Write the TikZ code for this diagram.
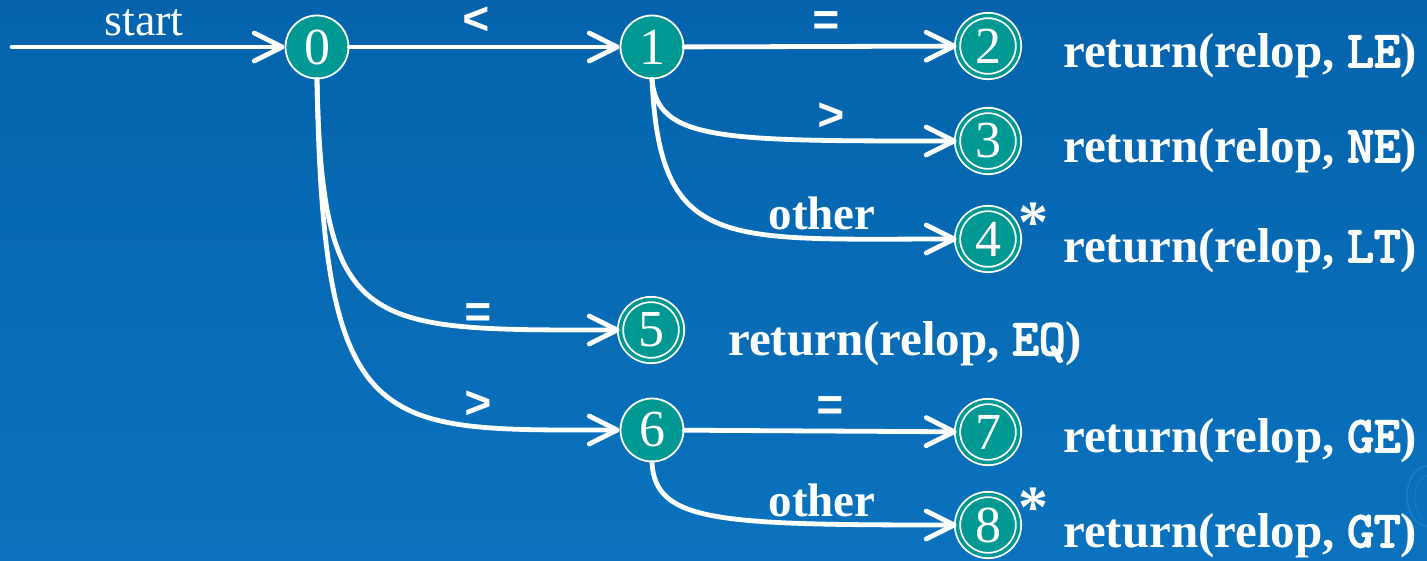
\documentclass[tikz,border=0pt]{standalone}
\usepackage{fontspec}
\setmainfont{Liberation Serif}
\setmonofont{lmmono10-regular.otf}[AutoFakeBold=3.4]
\newfontfamily\symfont{Liberation Mono}
\usetikzlibrary{arrows.meta}

\definecolor{bgtop}{RGB}{4,99,172}
\definecolor{bgbot}{RGB}{10,114,190}
\definecolor{statefill}{RGB}{0,152,146}
\definecolor{swirlblue}{RGB}{40,140,220}

% token in the return actions, set in bold typewriter
\newcommand\tok[1]{{\ttfamily\bfseries\fontsize{51}{51}\selectfont #1}}

\begin{document}
\begin{tikzpicture}[x=1pt,y=-1pt,
  state/.style={circle, draw=white, line width=1.8pt, fill=statefill,
    minimum size=63pt, inner sep=0pt, text=white,
    font=\fontsize{52}{52}\selectfont},
  accept/.style={state, minimum size=61pt, double=statefill,
    double distance=3.5pt},
  edge/.style={draw=white, line width=4.8pt, line cap=round,
    -{Straight Barb[length=28pt,width=28pt,round]}},
  sym/.style={text=white, inner sep=0pt, anchor=base,
    font=\symfont\bfseries\fontsize{46}{46}\selectfont},
  word/.style={text=white, inner sep=0pt, anchor=base,
    font=\fontsize{46}{46}\selectfont},
  label/.style={word, font=\bfseries\fontsize{47}{47}\selectfont},
  ret/.style={text=white, inner sep=0pt, anchor=base west,
    font=\bfseries\fontsize{49}{49}\selectfont},
  star/.style={text=white, inner sep=0pt,
    font=\bfseries\fontsize{60}{60}\selectfont}]

% background
\shade[top color=bgtop, bottom color=bgbot] (0,0) rectangle (1427,560);
\useasboundingbox (0,0) rectangle (1427,560);
\draw[swirlblue, line width=1.5pt, opacity=0.55]
  (1427,466) arc[start angle=90, end angle=270, x radius=20pt, y radius=30pt];
\draw[swirlblue, line width=1.2pt, opacity=0.4]
  (1427,476) arc[start angle=90, end angle=250, x radius=12pt, y radius=22pt];

% states
\node[state]  (n0) at (317,47)  {0};
\node[state]  (n1) at (652,47)  {1};
\node[accept] (n2) at (988,46)  {2};
\node[accept] (n3) at (988,141) {3};
\node[accept] (n4) at (988,239) {4};
\node[accept] (n5) at (651,330) {5};
\node[state]  (n6) at (652,430) {6};
\node[accept] (n7) at (988,432) {7};
\node[accept] (n8) at (988,525) {8};

% retract markers
\node[star] (s4) at (1033,223) {*};
\node[star] (s8) at (1033,508) {*};

% start arrow
\coordinate (init) at (12,47);
\draw[edge] (init) -- (n0);
\node[word] (lstart) at (144,35) {start};

% transitions
\draw[edge] (n0) -- (n1);
\draw[edge] (n1) -- (n2);
\draw[edge] (n6) -- (n7);
\draw[edge] (n1.south) .. controls +(5,62) and +(-265,0) .. (n3);
\draw[edge] (n1.south) .. controls +(8,172) and +(-265,0) .. (n4);
\draw[edge] (n0.south) .. controls +(5,255) and +(-285,0) .. (n5);
\draw[edge] (n0.south) .. controls +(6,360) and +(-275,0) .. (n6);
\draw[edge] (n6.south) .. controls +(3,60) and +(-270,0) .. (n8);

% transition labels
\node[sym] (l01) at (476,34)  {<};
\node[sym] (l12) at (826,35)  {=};
\node[sym] (l13) at (831,130) {>};
\node[label] (l14) at (822,229) {other};
\node[sym] (l05) at (478,327) {=};
\node[sym] (l06) at (478,418) {>};
\node[sym] (l67) at (830,420) {=};
\node[label] (l68) at (822,516) {other};

% actions
\node[ret] (a2) at (1063,67)  {return(relop, \tok{LE})};
\node[ret] (a3) at (1063,162) {return(relop, \tok{NE})};
\node[ret] (a4) at (1063,262) {return(relop, \tok{LT})};
\node[ret] (a5) at (728,355)  {return(relop, \tok{EQ})};
\node[ret] (a7) at (1063,452) {return(relop, \tok{GE})};
\node[ret] (a8) at (1063,547) {return(relop, \tok{GT})};
\end{tikzpicture}
\end{document}
